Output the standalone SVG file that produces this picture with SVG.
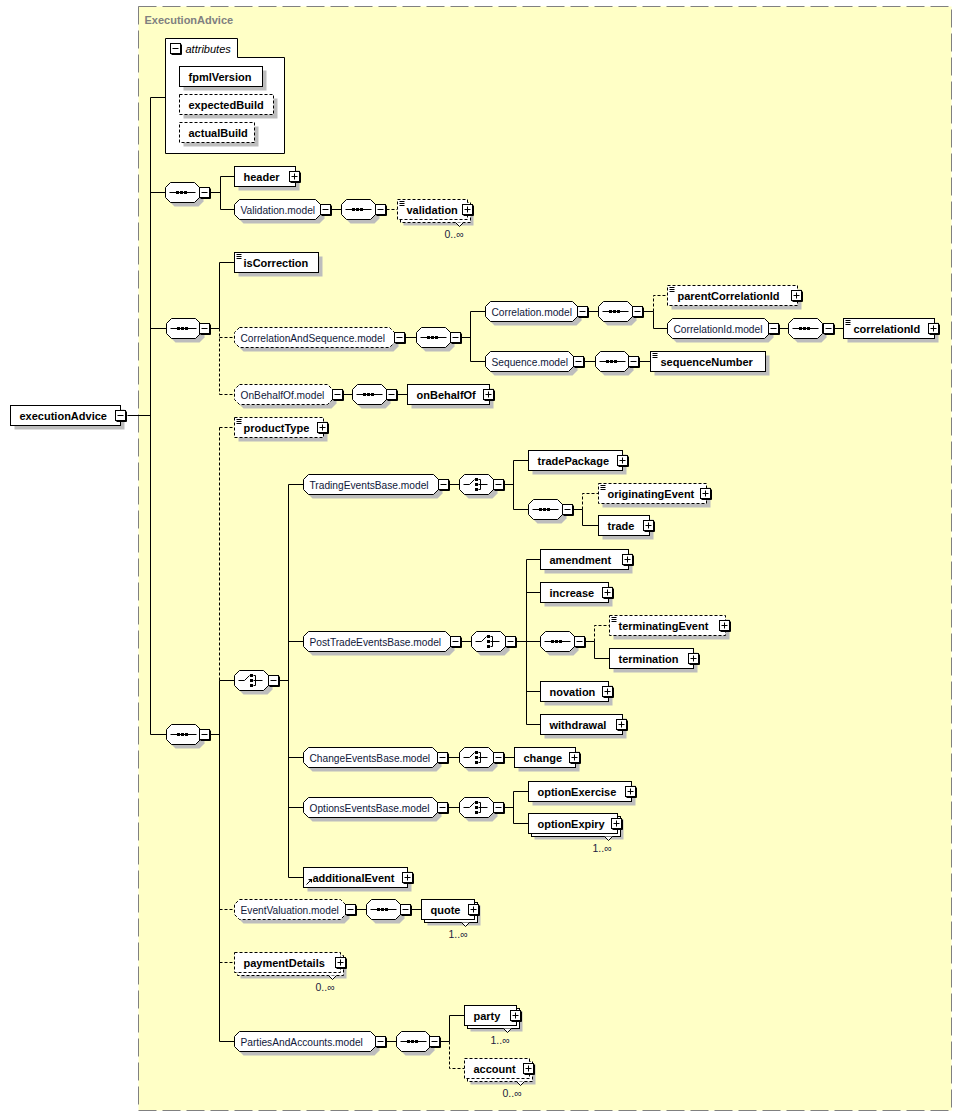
<svg xmlns="http://www.w3.org/2000/svg" xmlns:xlink="http://www.w3.org/1999/xlink" width="962" height="1116" viewBox="0 0 962 1116">
<style>
.n{fill:#fff;stroke:#000}
.o{fill:#fff;stroke:#000;stroke-dasharray:3,2}
.sh{fill:#bdbdbd;stroke:none}
.c{fill:none;stroke:#000}
.cd{fill:none;stroke:#000;stroke-dasharray:3,2}
.t{font-family:"Liberation Sans",Arial,sans-serif;font-weight:bold;font-size:11px;fill:#000}
.m{font-family:"Liberation Sans",Arial,sans-serif;font-size:10.2px;fill:#10183a}
.q{font-family:"Liberation Sans",Arial,sans-serif;font-size:10.5px;fill:#202040}
</style>
<defs>
<g id="pl"><rect width="10" height="10" fill="#fff" stroke="#000"/><path d="M11 1V11H1" fill="none" stroke="#000"/><path d="M2 5H8M5 2V8" stroke="#000"/></g>
<g id="mi"><rect width="10" height="10" fill="#fff" stroke="#000"/><path d="M11 1V11H1" fill="none" stroke="#000"/><path d="M2 5H8" stroke="#000"/></g>
<g id="sq"><polygon class="sh" points="9,4 33,4 38,9 38,19 33,24 9,24 4,19 4,9"/><polygon class="n" points="5,0 29,0 34,5 34,15 29,20 5,20 0,15 0,5"/><path d="M4 10H30" stroke="#000"/><rect x="10.5" y="8.5" width="3" height="3"/><rect x="14.5" y="8.5" width="3" height="3"/><rect x="18.5" y="8.5" width="3" height="3"/></g>
<g id="ch"><polygon class="sh" points="9,4 33,4 38,9 38,19 33,24 9,24 4,19 4,9"/><polygon class="n" points="5,0 29,0 34,5 34,15 29,20 5,20 0,15 0,5"/><path d="M4 10H10L15 5" fill="none" stroke="#000"/><rect x="15.5" y="3.5" width="3" height="3"/><rect x="15.5" y="8.5" width="3" height="3"/><rect x="15.5" y="13.5" width="3" height="3"/><path d="M19 5H21V15H19M19 10H28" fill="none" stroke="#000"/></g>
<path id="st" d="M2 2H7M2 4H7M2 6H7" stroke="#000"/>
<path id="nt" d="M-4 0L0 4L4 0" fill="#fff" stroke="#000"/>
</defs>
<rect width="962" height="1116" fill="#fff"/>
<g transform="translate(0.5 0.5)">
<rect id="group-box" x="138" y="6" width="813" height="1104" fill="#ffffc6" stroke="#808080" stroke-dasharray="18,6"/>
<text x="144" y="23" font-family="Liberation Sans, Arial, sans-serif" font-weight="bold" font-size="11" fill="#808080">ExecutionAdvice</text>

<g id="connectors">
<path class="c" d="M127 415H150M150 97V734M150 97H165M150 192H165M150 328H166M150 734H166"/>
<path class="c" d="M210 192H220M220 176V209M220 176H234M220 209H234M331 209H341"/>
<path class="cd" d="M386 209H397"/>
<path class="c" d="M210 328H219M219 262V328M219 262H234"/>
<path class="cd" d="M219 328V394M219 337H234M219 394H234"/>
<path class="c" d="M405 337H416M461 337H470M470 311V361M470 311H485M470 361H485"/>
<path class="c" d="M588 311H598M643 311H653M653 311V328H667M779 328H788M834 328H843"/>
<path class="cd" d="M653 311V295H667"/>
<path class="c" d="M584 361H595M639 361H650"/>
<path class="c" d="M343 394H352M397 394H407"/>
<path class="c" d="M210 734H219M219 680V1041M219 680H234M219 1041H234"/>
<path class="cd" d="M219 427V680M219 427H234M219 909H234M219 962H234"/>
<path class="c" d="M279 680H288M288 484V877M288 484H303M288 641H303M288 757H303M288 807H303M288 877H303"/>
<path class="c" d="M449 484H459M504 484H513M513 460V509M513 460H528M513 509H528M573 509H582M582 509V525H598"/>
<path class="cd" d="M582 509V493H598"/>
<path class="c" d="M461 641H471M516 641H526M526 559V724M526 559H540M526 592H540M526 641H540M526 691H540M526 724H540M585 641H594M594 641V658H609"/>
<path class="cd" d="M594 641V625H609"/>
<path class="c" d="M448 757H459M504 757H514"/>
<path class="c" d="M448 807H459M504 807H513M513 791V823M513 791H528M513 823H528"/>
<path class="c" d="M356 909H366M411 909H421"/>
<path class="c" d="M386 1041H396M440 1041H449M449 1041V1015H464"/>
<path class="cd" d="M449 1041V1068H464"/>
</g>

<g id="executionAdvice">
<rect class="sh" x="14" y="409" width="110" height="20"/><rect class="n" x="10" y="405" width="110" height="20"/>
<text class="t" x="19" y="419">executionAdvice</text><use xlink:href="#mi" x="115" y="410"/>
</g>

<g id="attributes">
<path class="n" d="M165 153V38H237V57H284V153Z"/>
<use xlink:href="#mi" x="170" y="43"/>
<text x="185" y="52" font-family="Liberation Sans, Arial, sans-serif" font-style="italic" font-size="11" fill="#000">attributes</text>
</g>
<g id="fpmlVersion"><rect class="sh" x="183" y="70" width="83" height="20"/><rect class="n" x="179" y="66" width="83" height="20"/><text class="t" x="188" y="80">fpmlVersion</text></g>
<g id="expectedBuild"><rect class="sh" x="183" y="98" width="94" height="20"/><rect class="o" x="179" y="94" width="94" height="20"/><text class="t" x="188" y="108">expectedBuild</text></g>
<g id="actualBuild"><rect class="sh" x="183" y="126" width="75" height="20"/><rect class="o" x="179" y="122" width="75" height="20"/><text class="t" x="188" y="136">actualBuild</text></g>

<g id="seq1"><use xlink:href="#sq" x="165" y="182"/><use xlink:href="#mi" x="199" y="187"/></g>
<g id="header"><rect class="sh" x="238" y="170" width="61" height="20"/><rect class="n" x="234" y="166" width="61" height="20"/><text class="t" x="243" y="180">header</text><use xlink:href="#pl" x="289" y="171"/></g>
<g id="Validation.model">
<polygon class="sh" transform="translate(4 4)" points="239,199 315,199 320,204 320,214 315,219 239,219 234,214 234,204"/>
<polygon class="n" points="239,199 315,199 320,204 320,214 315,219 239,219 234,214 234,204"/>
<text class="m" x="240" y="213">Validation.model</text><use xlink:href="#mi" x="320" y="204"/>
</g>
<g id="seq1b"><use xlink:href="#sq" x="341" y="199"/><use xlink:href="#mi" x="375" y="204"/></g>
<g id="validation"><rect class="sh" x="403" y="205" width="70" height="20"/><rect class="o" x="400" y="202" width="70" height="20"/><rect class="o" x="397" y="199" width="70" height="20"/><use xlink:href="#st" x="397" y="199"/><text class="t" x="406" y="213">validation</text><use xlink:href="#pl" x="462" y="204"/><use xlink:href="#nt" x="459" y="222"/><text class="q" x="444" y="237">0..∞</text></g>

<g id="seq2"><use xlink:href="#sq" x="166" y="318"/><use xlink:href="#mi" x="199" y="323"/></g>
<g id="isCorrection"><rect class="sh" x="238" y="256" width="84" height="20"/><rect class="n" x="234" y="252" width="84" height="20"/><use xlink:href="#st" x="234" y="252"/><text class="t" x="243" y="266">isCorrection</text></g>
<g id="CorrelationAndSequence.model">
<polygon class="sh" transform="translate(4 4)" points="239,327 389,327 394,332 394,342 389,347 239,347 234,342 234,332"/>
<polygon class="o" points="239,327 389,327 394,332 394,342 389,347 239,347 234,342 234,332"/>
<text class="m" x="240" y="341">CorrelationAndSequence.model</text><use xlink:href="#mi" x="394" y="332"/>
</g>
<g id="seq3"><use xlink:href="#sq" x="416" y="327"/><use xlink:href="#mi" x="450" y="332"/></g>
<g id="Correlation.model">
<polygon class="sh" transform="translate(4 4)" points="490,301 572,301 577,306 577,316 572,321 490,321 485,316 485,306"/>
<polygon class="n" points="490,301 572,301 577,306 577,316 572,321 490,321 485,316 485,306"/>
<text class="m" x="491" y="315">Correlation.model</text><use xlink:href="#mi" x="577" y="306"/>
</g>
<g id="seq3a"><use xlink:href="#sq" x="598" y="301"/><use xlink:href="#mi" x="632" y="306"/></g>
<g id="parentCorrelationId"><rect class="sh" x="671" y="289" width="130" height="20"/><rect class="o" x="667" y="285" width="130" height="20"/><use xlink:href="#st" x="667" y="285"/><text class="t" x="677" y="299">parentCorrelationId</text><use xlink:href="#pl" x="791" y="290"/></g>
<g id="CorrelationId.model">
<polygon class="sh" transform="translate(4 4)" points="672,318 764,318 769,323 769,333 764,338 672,338 667,333 667,323"/>
<polygon class="n" points="672,318 764,318 769,323 769,333 764,338 672,338 667,333 667,323"/>
<text class="m" x="673" y="332">CorrelationId.model</text><use xlink:href="#mi" x="768" y="323"/>
</g>
<g id="seq3b"><use xlink:href="#sq" x="788" y="318"/><use xlink:href="#mi" x="823" y="323"/></g>
<g id="correlationId"><rect class="sh" x="847" y="322" width="91" height="20"/><rect class="n" x="843" y="318" width="91" height="20"/><use xlink:href="#st" x="843" y="318"/><text class="t" x="853" y="332">correlationId</text><use xlink:href="#pl" x="928" y="323"/></g>
<g id="Sequence.model">
<polygon class="sh" transform="translate(4 4)" points="490,351 568,351 573,356 573,366 568,371 490,371 485,366 485,356"/>
<polygon class="n" points="490,351 568,351 573,356 573,366 568,371 490,371 485,366 485,356"/>
<text class="m" x="491" y="365">Sequence.model</text><use xlink:href="#mi" x="573" y="356"/>
</g>
<g id="seq3c"><use xlink:href="#sq" x="595" y="351"/><use xlink:href="#mi" x="628" y="356"/></g>
<g id="sequenceNumber"><rect class="sh" x="654" y="355" width="115" height="20"/><rect class="n" x="650" y="351" width="115" height="20"/><use xlink:href="#st" x="650" y="351"/><text class="t" x="660" y="365">sequenceNumber</text></g>
<g id="OnBehalfOf.model">
<polygon class="sh" transform="translate(4 4)" points="239,384 327,384 332,389 332,399 327,404 239,404 234,399 234,389"/>
<polygon class="o" points="239,384 327,384 332,389 332,399 327,404 239,404 234,399 234,389"/>
<text class="m" x="240" y="398">OnBehalfOf.model</text><use xlink:href="#mi" x="332" y="389"/>
</g>
<g id="seq3d"><use xlink:href="#sq" x="352" y="384"/><use xlink:href="#mi" x="386" y="389"/></g>
<g id="onBehalfOf"><rect class="sh" x="411" y="388" width="82" height="20"/><rect class="n" x="407" y="384" width="82" height="20"/><text class="t" x="416" y="398">onBehalfOf</text><use xlink:href="#pl" x="483" y="389"/></g>

<g id="seq4"><use xlink:href="#sq" x="166" y="724"/><use xlink:href="#mi" x="199" y="729"/></g>
<g id="productType"><rect class="sh" x="238" y="421" width="89" height="20"/><rect class="o" x="234" y="417" width="89" height="20"/><use xlink:href="#st" x="234" y="417"/><text class="t" x="243" y="431">productType</text><use xlink:href="#pl" x="317" y="422"/></g>
<g id="choice1"><use xlink:href="#ch" x="234" y="670"/><use xlink:href="#mi" x="268" y="675"/></g>

<g id="TradingEventsBase.model">
<polygon class="sh" transform="translate(4 4)" points="308,474 433,474 438,479 438,489 433,494 308,494 303,489 303,479"/>
<polygon class="n" points="308,474 433,474 438,479 438,489 433,494 308,494 303,489 303,479"/>
<text class="m" x="309" y="488">TradingEventsBase.model</text><use xlink:href="#mi" x="438" y="479"/>
</g>
<g id="choice2"><use xlink:href="#ch" x="459" y="474"/><use xlink:href="#mi" x="493" y="479"/></g>
<g id="tradePackage"><rect class="sh" x="532" y="454" width="94" height="20"/><rect class="n" x="528" y="450" width="94" height="20"/><text class="t" x="537" y="464">tradePackage</text><use xlink:href="#pl" x="617" y="455"/></g>
<g id="seq5"><use xlink:href="#sq" x="528" y="499"/><use xlink:href="#mi" x="562" y="504"/></g>
<g id="originatingEvent"><rect class="sh" x="602" y="487" width="108" height="20"/><rect class="o" x="598" y="483" width="108" height="20"/><use xlink:href="#st" x="598" y="483"/><text class="t" x="607" y="497">originatingEvent</text><use xlink:href="#pl" x="700" y="488"/></g>
<g id="trade"><rect class="sh" x="602" y="519" width="51" height="20"/><rect class="n" x="598" y="515" width="51" height="20"/><text class="t" x="607" y="529">trade</text><use xlink:href="#pl" x="643" y="520"/></g>

<g id="PostTradeEventsBase.model">
<polygon class="sh" transform="translate(4 4)" points="308,631 445,631 450,636 450,646 445,651 308,651 303,646 303,636"/>
<polygon class="n" points="308,631 445,631 450,636 450,646 445,651 308,651 303,646 303,636"/>
<text class="m" x="309" y="645">PostTradeEventsBase.model</text><use xlink:href="#mi" x="450" y="636"/>
</g>
<g id="choice3"><use xlink:href="#ch" x="471" y="631"/><use xlink:href="#mi" x="505" y="636"/></g>
<g id="amendment"><rect class="sh" x="544" y="553" width="88" height="20"/><rect class="n" x="540" y="549" width="88" height="20"/><text class="t" x="549" y="563">amendment</text><use xlink:href="#pl" x="622" y="554"/></g>
<g id="increase"><rect class="sh" x="544" y="586" width="68" height="20"/><rect class="n" x="540" y="582" width="68" height="20"/><text class="t" x="549" y="596">increase</text><use xlink:href="#pl" x="602" y="587"/></g>
<g id="seq6"><use xlink:href="#sq" x="540" y="631"/><use xlink:href="#mi" x="574" y="636"/></g>
<g id="terminatingEvent"><rect class="sh" x="613" y="619" width="116" height="20"/><rect class="o" x="609" y="615" width="116" height="20"/><use xlink:href="#st" x="609" y="615"/><text class="t" x="618" y="629">terminatingEvent</text><use xlink:href="#pl" x="719" y="620"/></g>
<g id="termination"><rect class="sh" x="613" y="652" width="84" height="20"/><rect class="n" x="609" y="648" width="84" height="20"/><text class="t" x="618" y="662">termination</text><use xlink:href="#pl" x="688" y="653"/></g>
<g id="novation"><rect class="sh" x="544" y="685" width="68" height="20"/><rect class="n" x="540" y="681" width="68" height="20"/><text class="t" x="549" y="695">novation</text><use xlink:href="#pl" x="602" y="686"/></g>
<g id="withdrawal"><rect class="sh" x="544" y="718" width="82" height="20"/><rect class="n" x="540" y="714" width="82" height="20"/><text class="t" x="549" y="728">withdrawal</text><use xlink:href="#pl" x="616" y="719"/></g>

<g id="ChangeEventsBase.model">
<polygon class="sh" transform="translate(4 4)" points="308,747 432,747 437,752 437,762 432,767 308,767 303,762 303,752"/>
<polygon class="n" points="308,747 432,747 437,752 437,762 432,767 308,767 303,762 303,752"/>
<text class="m" x="309" y="761">ChangeEventsBase.model</text><use xlink:href="#mi" x="437" y="752"/>
</g>
<g id="choice4"><use xlink:href="#ch" x="459" y="747"/><use xlink:href="#mi" x="493" y="752"/></g>
<g id="change"><rect class="sh" x="518" y="751" width="61" height="20"/><rect class="n" x="514" y="747" width="61" height="20"/><text class="t" x="523" y="761">change</text><use xlink:href="#pl" x="569" y="752"/></g>

<g id="OptionsEventsBase.model">
<polygon class="sh" transform="translate(4 4)" points="308,797 432,797 437,802 437,812 432,817 308,817 303,812 303,802"/>
<polygon class="n" points="308,797 432,797 437,802 437,812 432,817 308,817 303,812 303,802"/>
<text class="m" x="309" y="811">OptionsEventsBase.model</text><use xlink:href="#mi" x="437" y="802"/>
</g>
<g id="choice5"><use xlink:href="#ch" x="459" y="797"/><use xlink:href="#mi" x="493" y="802"/></g>
<g id="optionExercise"><rect class="sh" x="532" y="785" width="103" height="20"/><rect class="n" x="528" y="781" width="103" height="20"/><text class="t" x="537" y="795">optionExercise</text><use xlink:href="#pl" x="625" y="786"/></g>
<g id="optionExpiry"><rect class="sh" x="534" y="819" width="89" height="20"/><rect class="n" x="531" y="816" width="89" height="20"/><rect class="n" x="528" y="813" width="89" height="20"/><text class="t" x="537" y="827">optionExpiry</text><use xlink:href="#pl" x="611" y="818"/><use xlink:href="#nt" x="608" y="836"/><text class="q" x="592" y="851">1..∞</text></g>
<g id="additionalEvent"><rect class="sh" x="307" y="871" width="104" height="20"/><rect class="n" x="303" y="867" width="104" height="20"/><path d="M306 884L310 880" stroke="#000"/><polygon points="307.5,878.5 311.5,878.5 311.5,882.5"/><text class="t" x="312" y="881">additionalEvent</text><use xlink:href="#pl" x="402" y="872"/></g>

<g id="EventValuation.model">
<polygon class="sh" transform="translate(4 4)" points="239,899 340,899 345,904 345,914 340,919 239,919 234,914 234,904"/>
<polygon class="o" points="239,899 340,899 345,904 345,914 340,919 239,919 234,914 234,904"/>
<text class="m" x="240" y="913">EventValuation.model</text><use xlink:href="#mi" x="345" y="904"/>
</g>
<g id="seq7"><use xlink:href="#sq" x="366" y="899"/><use xlink:href="#mi" x="400" y="904"/></g>
<g id="quote"><rect class="sh" x="427" y="905" width="53" height="20"/><rect class="n" x="424" y="902" width="53" height="20"/><rect class="n" x="421" y="899" width="53" height="20"/><text class="t" x="430" y="913">quote</text><use xlink:href="#pl" x="468" y="904"/><use xlink:href="#nt" x="465" y="922"/><text class="q" x="448" y="937">1..∞</text></g>

<g id="paymentDetails"><rect class="sh" x="240" y="958" width="106" height="20"/><rect class="o" x="237" y="955" width="106" height="20"/><rect class="o" x="234" y="952" width="106" height="20"/><text class="t" x="243" y="966">paymentDetails</text><use xlink:href="#pl" x="335" y="957"/><use xlink:href="#nt" x="332" y="975"/><text class="q" x="315" y="990">0..∞</text></g>

<g id="PartiesAndAccounts.model">
<polygon class="sh" transform="translate(4 4)" points="239,1031 370,1031 375,1036 375,1046 370,1051 239,1051 234,1046 234,1036"/>
<polygon class="n" points="239,1031 370,1031 375,1036 375,1046 370,1051 239,1051 234,1046 234,1036"/>
<text class="m" x="240" y="1045">PartiesAndAccounts.model</text><use xlink:href="#mi" x="375" y="1036"/>
</g>
<g id="seq8"><use xlink:href="#sq" x="396" y="1031"/><use xlink:href="#mi" x="429" y="1036"/></g>
<g id="party"><rect class="sh" x="470" y="1011" width="52" height="20"/><rect class="n" x="467" y="1008" width="52" height="20"/><rect class="n" x="464" y="1005" width="52" height="20"/><text class="t" x="473" y="1019">party</text><use xlink:href="#pl" x="510" y="1010"/><use xlink:href="#nt" x="507" y="1028"/><text class="q" x="490" y="1043">1..∞</text></g>
<g id="account"><rect class="sh" x="470" y="1064" width="65" height="20"/><rect class="o" x="467" y="1061" width="65" height="20"/><rect class="o" x="464" y="1058" width="65" height="20"/><text class="t" x="473" y="1072">account</text><use xlink:href="#pl" x="523" y="1063"/><use xlink:href="#nt" x="520" y="1081"/><text class="q" x="502" y="1096">0..∞</text></g>
</g>
</svg>
